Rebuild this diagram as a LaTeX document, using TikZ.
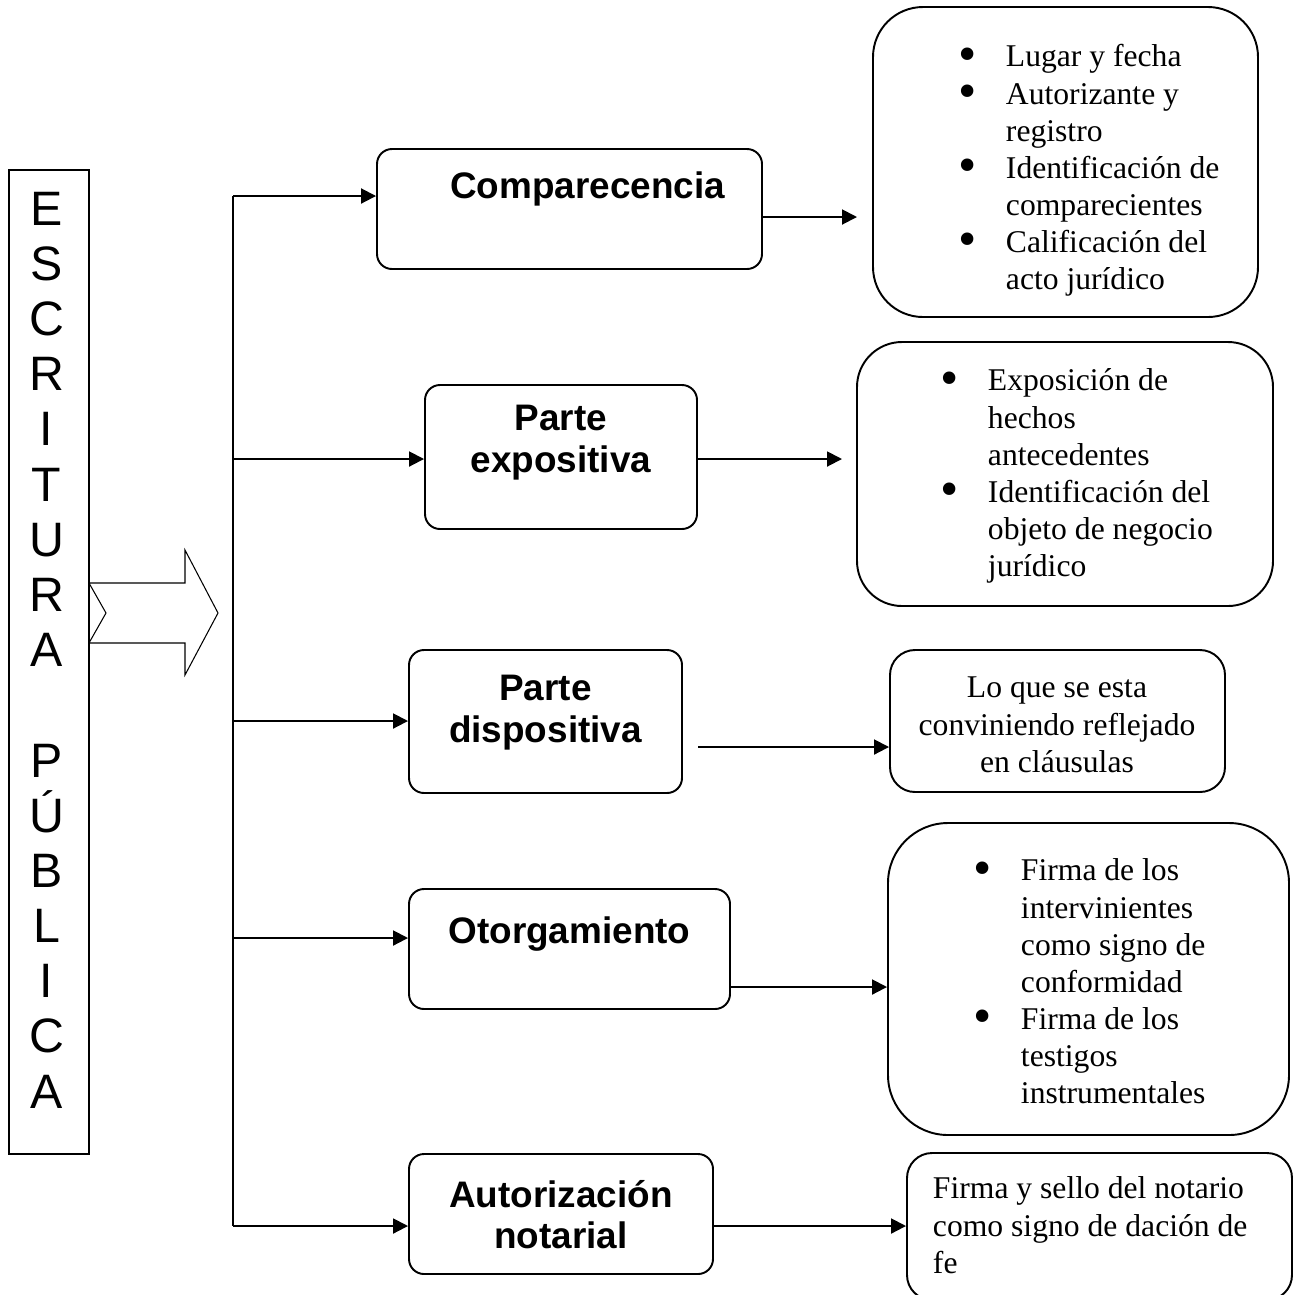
\documentclass[tikz,border=0pt]{standalone}
\usepackage{fontspec}
\setmainfont{Liberation Serif}
\setsansfont{Liberation Sans}
\usepackage{graphicx}
\usetikzlibrary{arrows.meta,positioning}

\newcommand{\bul}{\raisebox{-0.14em}[0pt][0pt]{\scalebox{1.65}{\textbullet}}}

\begin{document}
\begin{tikzpicture}[line width=1.1pt,
    parte/.style={draw, rounded corners=0.3cm, inner sep=0pt},
    partetxt/.style={inner sep=0pt, align=center, font=\sffamily\bfseries\fontsize{21}{23.8}\selectfont},
    caja/.style={draw, inner sep=0pt},
    cajatxt/.style={inner sep=0pt, anchor=north west, font=\fontsize{18}{21.1}\selectfont},
    letras/.style={inner sep=0pt, align=center, font=\sffamily\fontsize{27.5}{31.4}\selectfont},
    flecha/.style={-{Triangle[length=0.3cm,width=0.3cm]}}]
    \useasboundingbox (0,0) rectangle (25.98,-25.88);

    % title column
    \node[draw, line width=0.85pt, minimum width=1.6cm, minimum height=19.68cm] (escritura) at (0.98,-13.24) {};
    \node[letras] (titulo) at (0.93,-13.0) {E\\S\\C\\R\\I\\T\\U\\R\\A\\[1.107cm]P\\Ú\\B\\L\\I\\C\\A};
    \draw[line width=0.6pt] (1.78,-11.66) -- (3.70,-11.66) -- (3.70,-11.0) -- (4.36,-12.26)
        -- (3.70,-13.5) -- (3.70,-12.86) -- (1.78,-12.86) -- (2.12,-12.26) -- cycle;

    % parts
    \node[parte, minimum width=7.70cm, minimum height=2.40cm] (comp) at (11.39,-4.18) {};
    \node[parte, minimum width=5.44cm, minimum height=2.88cm] (expo) at (11.22,-9.14) {};
    \node[parte, minimum width=5.46cm, minimum height=2.86cm] (disp) at (10.91,-14.43) {};
    \node[parte, minimum width=6.42cm, minimum height=2.40cm] (otor) at (11.39,-18.98) {};
    \node[parte, minimum width=6.08cm, minimum height=2.40cm] (auto) at (11.22,-24.28) {};
    \node[partetxt, below=0.45cm of comp.north, xshift=0.36cm] (comp-t) {Comparecencia};
    \node[partetxt, below=0.40cm of expo.north] (expo-t) {Parte\\expositiva};
    \node[partetxt, below=0.50cm of disp.north] (disp-t) {Parte\\dispositiva};
    \node[partetxt, below=0.55cm of otor.north] (otor-t) {Otorgamiento};
    \node[partetxt, below=0.52cm of auto.north] (auto-t) {Autorización\\notarial};

    % trunk
    \coordinate (t1) at (4.66,-3.92);
    \coordinate (t2) at (4.66,-9.18);
    \coordinate (t3) at (4.66,-14.42);
    \coordinate (t4) at (4.66,-18.76);
    \coordinate (t5) at (4.66,-24.52);
    \draw (t1) -- (t5);
    \draw[flecha] (t1) -- (t1 -| comp.west);
    \draw[flecha] (t2) -- (t2 -| expo.west);
    \draw[flecha] (t3) -- (t3 -| disp.west);
    \draw[flecha] (t4) -- (t4 -| otor.west);
    \draw[flecha] (t5) -- (t5 -| auto.west);

    % contents
    \node[caja, rounded corners=1.0cm, minimum width=7.70cm, minimum height=6.20cm] (lugar) at (21.31,-3.24) {};
    \node[caja, rounded corners=0.9cm, minimum width=8.32cm, minimum height=5.28cm] (hechos) at (21.30,-9.48) {};
    \node[caja, rounded corners=0.5cm, minimum width=6.70cm, minimum height=2.84cm] (clausulas) at (21.15,-14.42) {};
    \node[caja, rounded corners=1.2cm, minimum width=8.02cm, minimum height=6.24cm] (firmas) at (21.77,-19.58) {};
    \node[caja, rounded corners=0.5cm, minimum width=7.70cm, minimum height=2.94cm] (sello) at (21.99,-24.53) {};

    \node[cajatxt] (lugar-t) at (19.16,-0.80) {\begin{tabular}{@{}p{0.94cm}@{}l@{}}
        \bul & Lugar y fecha\\
        \bul & Autorizante y\\
             & registro\\
        \bul & Identificación de\\
             & comparecientes\\
        \bul & Calificación del\\
             & acto jurídico
        \end{tabular}};
    \node[cajatxt] (hechos-t) at (18.80,-7.28) {\begin{tabular}{@{}p{0.94cm}@{}l@{}}
        \bul & Exposición de\\
             & hechos\\
             & antecedentes\\
        \bul & Identificación del\\
             & objeto de negocio\\
             & jurídico
        \end{tabular}};
    \node[cajatxt, anchor=north] (clausulas-t) at (21.14,-13.42) {\begin{tabular}{@{}c@{}}
        Lo que se esta\\
        conviniendo reflejado\\
        en cláusulas
        \end{tabular}};
    \node[cajatxt] (firmas-t) at (19.46,-17.08) {\begin{tabular}{@{}p{0.94cm}@{}l@{}}
        \bul & Firma de los\\
             & intervinientes\\
             & como signo de\\
             & conformidad\\
        \bul & Firma de los\\
             & testigos\\
             & instrumentales
        \end{tabular}};
    \node[cajatxt] (sello-t) at (18.64,-23.44) {\begin{tabular}{@{}l@{}}
        Firma y sello del notario\\
        como signo de dación de\\
        fe
        \end{tabular}};

    % links
    \coordinate (f1) at (17.14,-4.34);
    \coordinate (f2) at (16.84,-9.18);
    \coordinate (f3) at (13.96,-14.94);
    \coordinate (f4) at (14.60,-19.74);
    \draw[flecha] (f1 -| comp.east) -- (f1);
    \draw[flecha] (f2 -| expo.east) -- (f2);
    \draw[flecha] (f3) -- (f3 -| clausulas.west);
    \draw[flecha] (f4 -| otor.east) -- (f4 -| firmas.west);
    \draw[flecha] (t5 -| auto.east) -- (t5 -| sello.west);
\end{tikzpicture}
\end{document}
